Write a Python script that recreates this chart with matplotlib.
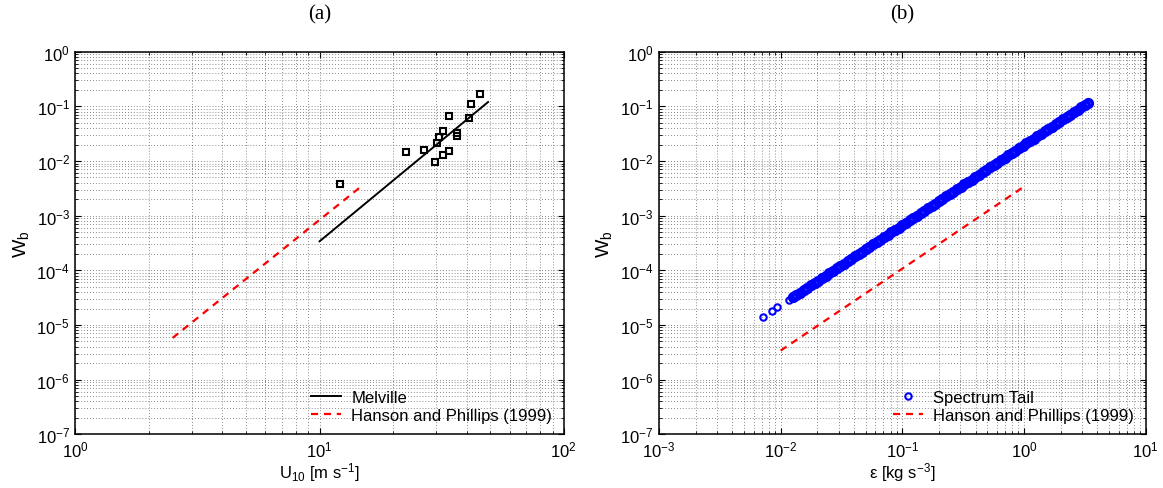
import numpy as np
import matplotlib
matplotlib.use("Agg")
import matplotlib.pyplot as plt
from matplotlib.ticker import LogLocator, NullFormatter

# =========================================================
# DATA
# =========================================================
# (a) observations vs wind speed
u10_obs = [12.1, 22.6, 26.8, 29.7, 30.4, 30.7, 32.0, 32.0, 33.8, 33.8,
           36.4, 36.6, 41.1, 41.9, 45.5]
wb_obs = [3.77e-3, 1.48e-2, 1.58e-2, 9.5e-3, 2.1e-2, 2.7e-2, 3.56e-2, 1.29e-2,
          6.7e-2, 1.5e-2, 2.88e-2, 3.23e-2, 6.2e-2, 0.112, 0.167]

u10_melville = [10.0, 49.0]
wb_melville = [3.4e-4, 0.12]

u10_hp = [2.5, 15.0]
wb_hp_u = [5.8e-6, 3.6e-3]

# (b) spectrum tail vs dissipation (log10 values)
log_eps_head = [-2.142, -2.068, -2.026, -1.935]
log_wb_head = [-4.849, -4.740, -4.678, -4.545]

log_eps_tail = [-1.90, -1.87, -1.84, -1.81, -1.78, -1.75, -1.72, -1.69, -1.66, -1.63,
                -1.60, -1.57, -1.54, -1.51, -1.48, -1.45, -1.42, -1.39, -1.36, -1.33,
                -1.30, -1.27, -1.24, -1.21, -1.18, -1.15, -1.12, -1.09, -1.06, -1.03,
                -1.00, -0.97, -0.94, -0.91, -0.88, -0.85, -0.82, -0.79, -0.76, -0.73,
                -0.70, -0.67, -0.64, -0.61, -0.58, -0.55, -0.52, -0.49, -0.46, -0.43,
                -0.40, -0.37, -0.34, -0.31, -0.28, -0.25, -0.22, -0.19, -0.16, -0.13,
                -0.10, -0.07, -0.04, -0.01, 0.02, 0.05, 0.08, 0.11, 0.14, 0.17,
                0.20, 0.23, 0.26, 0.29, 0.32, 0.35, 0.38, 0.41, 0.44, 0.47,
                0.50, 0.53]
log_wb_tail = [-4.494, -4.450, -4.406, -4.362, -4.318, -4.274, -4.230, -4.186, -4.142, -4.098,
               -4.054, -4.010, -3.966, -3.922, -3.878, -3.834, -3.790, -3.746, -3.702, -3.658,
               -3.614, -3.570, -3.526, -3.482, -3.438, -3.394, -3.350, -3.306, -3.262, -3.218,
               -3.174, -3.130, -3.086, -3.042, -2.998, -2.954, -2.910, -2.866, -2.822, -2.778,
               -2.734, -2.690, -2.646, -2.602, -2.558, -2.514, -2.470, -2.426, -2.382, -2.338,
               -2.294, -2.250, -2.206, -2.162, -2.118, -2.074, -2.030, -1.986, -1.942, -1.898,
               -1.854, -1.810, -1.766, -1.722, -1.678, -1.634, -1.590, -1.546, -1.502, -1.458,
               -1.414, -1.370, -1.326, -1.282, -1.238, -1.194, -1.150, -1.106, -1.062, -1.018,
               -0.974, -0.930]

eps_hp = [0.01, 1.0]
wb_hp_eps = [3.4e-6, 3.4e-3]

# =========================================================
# STYLE
# =========================================================
plt.rcParams.update({
    "font.family": "Liberation Sans",
    "font.size": 11,
    "mathtext.fontset": "custom",
    "mathtext.rm": "Liberation Sans",
    "mathtext.it": "Liberation Sans:italic",
    "mathtext.bf": "Liberation Sans:bold",
    "axes.linewidth": 1.1,
    "xtick.direction": "in",
    "ytick.direction": "in",
    "xtick.top": True,
    "ytick.right": True,
    "xtick.major.size": 4,
    "ytick.major.size": 4,
    "xtick.minor.size": 2,
    "ytick.minor.size": 2,
    "xtick.labelsize": 12,
    "ytick.labelsize": 12,
})

fig = plt.figure(figsize=(11.63, 4.89), dpi=100)
ax_a = fig.add_axes([0.0649, 0.1098, 0.4198, 0.7824])
ax_b = fig.add_axes([0.5666, 0.1098, 0.4185, 0.7824])


def style_axis(ax, xlim):
    ax.set_xscale("log")
    ax.set_yscale("log")
    ax.set_xlim(*xlim)
    ax.set_ylim(1e-7, 1e0)
    ax.xaxis.set_major_locator(LogLocator(base=10, numticks=20))
    ax.yaxis.set_major_locator(LogLocator(base=10, numticks=20))
    ax.xaxis.set_minor_locator(LogLocator(base=10, subs=np.arange(2, 10), numticks=100))
    ax.yaxis.set_minor_locator(LogLocator(base=10, subs=np.arange(2, 10), numticks=100))
    ax.xaxis.set_minor_formatter(NullFormatter())
    ax.yaxis.set_minor_formatter(NullFormatter())
    ax.grid(True, which="both", linestyle=(0, (1, 2.5)), linewidth=0.6, color="0.4")
    ax.set_axisbelow(True)
    ax.tick_params(which="both", pad=4)
    ax.set_ylabel(r"W$_\mathrm{b}$", fontsize=14, labelpad=4)


# =========================================================
# (a)
# =========================================================
style_axis(ax_a, (1e0, 1e2))
ax_a.plot(u10_obs, wb_obs, linestyle="none", marker="s", markersize=5,
          markerfacecolor="none", markeredgecolor="black", markeredgewidth=1.5)
ax_a.plot(u10_melville, wb_melville, color="black", linewidth=1.4, label="Melville")
ax_a.plot(u10_hp, wb_hp_u, color="red", linewidth=1.6, linestyle=(0, (3.2, 2.6)),
          label="Hanson and Phillips (1999)")
ax_a.set_xlabel(r"U$_{10}$ [m s$^{-1}$]", fontsize=12, labelpad=0)
ax_a.set_title("(a)", family="Liberation Serif", fontsize=15, pad=24)
ax_a.legend(loc="lower right", frameon=False, fontsize=12, handlelength=1.8,
            borderaxespad=0.3, labelspacing=0.15, handletextpad=0.6)

# =========================================================
# (b)
# =========================================================
style_axis(ax_b, (1e-3, 1e1))
ax_b.plot(10 ** np.array(log_eps_head), 10 ** np.array(log_wb_head), linestyle="none",
          marker="o", markersize=4.6, markerfacecolor="none", markeredgecolor="blue",
          markeredgewidth=1.5, label="Spectrum Tail")
ax_b.plot(10 ** np.array(log_eps_tail), 10 ** np.array(log_wb_tail), linestyle="none",
          marker="o", markersize=5.5, markerfacecolor="none", markeredgecolor="blue",
          markeredgewidth=2.6)
ax_b.plot(eps_hp, wb_hp_eps, color="red", linewidth=1.6, linestyle=(0, (3.2, 2.6)),
          label="Hanson and Phillips (1999)")
ax_b.set_xlabel(r"ε [kg s$^{-3}$]", fontsize=12, labelpad=0)
ax_b.set_title("(b)", family="Liberation Serif", fontsize=15, pad=24)
ax_b.legend(loc="lower right", frameon=False, fontsize=12, handlelength=1.8,
            borderaxespad=0.3, labelspacing=0.15, handletextpad=0.6)

fig.savefig("out.png", dpi=100)
